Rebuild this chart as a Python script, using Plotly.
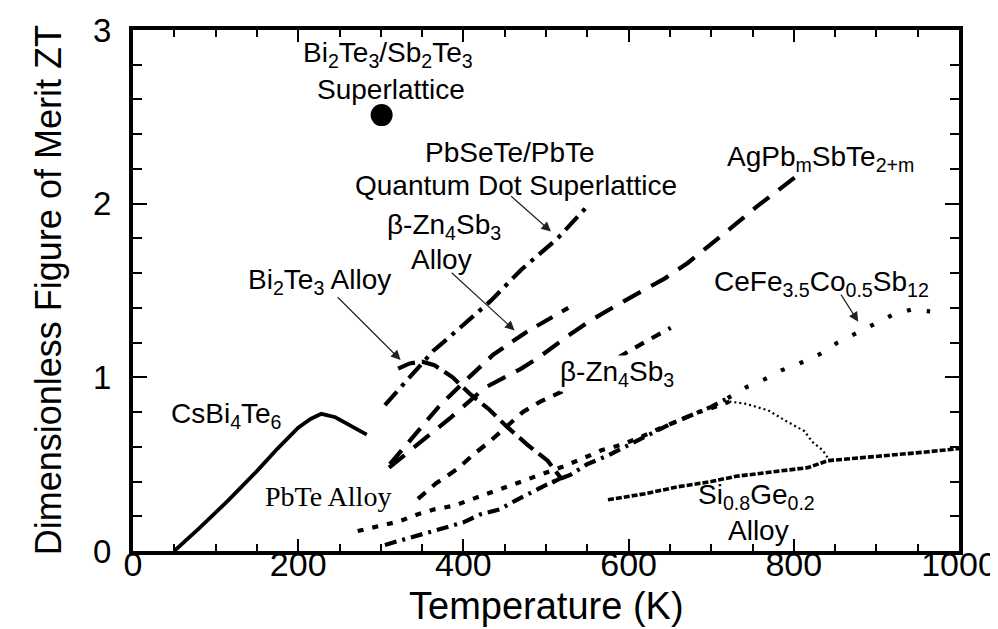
import plotly.graph_objects as go

# ---------------- data ----------------
cs_T = [50, 80, 115, 150, 175, 200, 215, 228, 245, 265, 283]
cs_ZT = [0.0, 0.13, 0.29, 0.46, 0.59, 0.71, 0.76, 0.79, 0.77, 0.72, 0.67]

sl_T = [301]
sl_ZT = [2.51]

qd_T = [305, 337, 363, 385, 433, 470, 514, 551]
qd_ZT = [0.84, 1.01, 1.15, 1.24, 1.44, 1.62, 1.80, 1.99]

bt_T = [321, 335, 350, 365, 387, 409, 430, 454, 478, 502, 518, 502]
bt_ZT = [1.05, 1.08, 1.09, 1.07, 1.00, 0.90, 0.82, 0.71, 0.61, 0.52, 0.42, 0.38]

zna_T = [311, 340, 370, 400, 436, 476, 516, 527]
zna_ZT = [0.50, 0.66, 0.83, 0.97, 1.13, 1.26, 1.37, 1.40]

agpb_T = [310, 343, 385, 426, 470, 490, 527, 555, 591, 644, 672, 724, 757, 801]
agpb_ZT = [0.48, 0.61, 0.77, 0.94, 1.05, 1.11, 1.24, 1.33, 1.43, 1.57, 1.66, 1.86, 1.99, 2.15]

zn_T = [345, 367, 392, 412, 433, 472, 493, 520, 560, 600, 626, 651]
zn_ZT = [0.30, 0.39, 0.47, 0.555, 0.635, 0.80, 0.86, 0.92, 1.03, 1.15, 1.22, 1.285]

pbte_T = [272, 300, 322, 344, 365, 388, 412, 433, 454, 478, 500, 520, 543, 567, 590, 612, 635, 660, 685, 705, 722]
pbte_ZT = [0.115, 0.145, 0.17, 0.21, 0.24, 0.26, 0.30, 0.34, 0.37, 0.41, 0.45, 0.485, 0.53, 0.58, 0.61, 0.65, 0.70, 0.75, 0.80, 0.83, 0.86]

pbdrop_T = [722, 740, 769, 790, 813, 822, 835, 842]
pbdrop_ZT = [0.86, 0.85, 0.81, 0.75, 0.69, 0.63, 0.58, 0.53]

cefe_lo_T = [305, 330, 355, 377, 400, 420, 444, 463, 487, 504, 530, 550, 575, 600, 625, 650, 675, 700, 720]
cefe_lo_ZT = [0.035, 0.07, 0.10, 0.13, 0.165, 0.21, 0.24, 0.29, 0.345, 0.39, 0.44, 0.50, 0.55, 0.61, 0.67, 0.73, 0.78, 0.83, 0.88]

cefe_hi_T = [720, 741, 765, 785, 807, 832, 853, 876, 898, 920, 942, 965]
cefe_hi_ZT = [0.88, 0.94, 0.99, 1.04, 1.08, 1.135, 1.20, 1.255, 1.31, 1.36, 1.39, 1.38]

sige_T = [575, 620, 660, 700, 730, 780, 817, 841, 880, 910, 960, 1000]
sige_ZT = [0.295, 0.33, 0.37, 0.40, 0.43, 0.46, 0.48, 0.52, 0.535, 0.55, 0.57, 0.59]

x_ticks = [0, 200, 400, 600, 800, 1000]
y_ticks = [0, 1, 2, 3]

# ---------------- figure ----------------
SANS = "Liberation Sans, Arial, Helvetica, sans-serif"
SERIF = "Liberation Serif, Times New Roman, serif"
LBL = 28

fig = go.Figure()

def line(x, y, dash, width=4.2):
    fig.add_trace(go.Scatter(x=x, y=y, mode="lines",
                             line=dict(color="black", width=width, dash=dash),
                             showlegend=False, hoverinfo="skip"))

line(cs_T, cs_ZT, "solid", 3.8)
line(qd_T, qd_ZT, "18px,7px,4px,7px")
line(bt_T, bt_ZT, "18px,7px")
line(zna_T, zna_ZT, "18px,11px")
line(agpb_T, agpb_ZT, "20px,12px")
line(zn_T, zn_ZT, "10px,9px")
line(pbte_T, pbte_ZT, "6px,9px")
line(pbdrop_T, pbdrop_ZT, "2px,3px", 2.2)
line(cefe_lo_T, cefe_lo_ZT, "12px,6px,3px,6px")
line(cefe_hi_T, cefe_hi_ZT, "4px,16px")
line(sige_T, sige_ZT, "6px,2px", 3.6)

fig.add_trace(go.Scatter(x=sl_T, y=sl_ZT, mode="markers",
                         marker=dict(color="black", size=22, symbol="circle"),
                         showlegend=False, hoverinfo="skip"))

labels = [
    ("Bi<sub>2</sub>Te<sub>3</sub>/Sb<sub>2</sub>Te<sub>3</sub>", 309, 2.86, SANS, False),
    ("Superlattice", 312, 2.66, SANS, False),
    ("PbSeTe/PbTe", 456, 2.295, SANS, False),
    ("Quantum Dot Superlattice", 464, 2.105, SANS, False),
    ("β-Zn<sub>4</sub>Sb<sub>3</sub>", 377, 1.87, SANS, False),
    ("Alloy", 373, 1.68, SANS, False),
    ("Bi<sub>2</sub>Te<sub>3</sub> Alloy", 226, 1.55, SANS, False),
    ("AgPb<sub>m</sub>SbTe<sub>2+m</sub>", 832, 2.26, SANS, False),
    ("CeFe<sub>3.5</sub>Co<sub>0.5</sub>Sb<sub>12</sub>", 833, 1.54, SANS, False),
    ("β-Zn<sub>4</sub>Sb<sub>3</sub>", 586, 1.02, SANS, True),
    ("CsBi<sub>4</sub>Te<sub>6</sub>", 113, 0.78, SANS, False),
    ("PbTe Alloy", 236, 0.315, SERIF, False),
    ("Si<sub>0.8</sub>Ge<sub>0.2</sub>", 755, 0.315, SANS, False),
    ("Alloy", 757, 0.12, SANS, False),
]
for txt, x, y, fam, bg in labels:
    fig.add_annotation(x=x, y=y, text=txt, showarrow=False,
                       font=dict(family=fam, size=LBL, color="black"),
                       bgcolor="white" if bg else "rgba(0,0,0,0)",
                       borderpad=0,
                       xanchor="center", yanchor="middle")

arrows = [
    # tip x, tip y, tail x, tail y
    (506, 1.84, 456, 2.05),
    (462, 1.27, 384, 1.61),
    (324, 1.10, 246, 1.47),
    (878, 1.32, 856, 1.485),
]
for x, y, ax, ay in arrows:
    fig.add_annotation(x=x, y=y, ax=ax, ay=ay, xref="x", yref="y",
                       axref="x", ayref="y", text="", showarrow=True,
                       arrowhead=2, arrowsize=1.6, arrowwidth=1.2,
                       arrowcolor="#222")

# axis titles placed in paper space
fig.add_annotation(text="Temperature (K)", xref="paper", yref="paper",
                   x=0.5, y=-0.106, xanchor="center", yanchor="middle",
                   showarrow=False, borderpad=0,
                   font=dict(family=SANS, size=38, color="black"))
fig.add_annotation(text="Dimensionless Figure of Merit ZT", xref="paper",
                   yref="paper", x=-0.102, y=0.5, xanchor="center",
                   yanchor="middle", textangle=-90, showarrow=False,
                   font=dict(family=SANS, size=36, color="black"))

fig.update_xaxes(range=[0, 1000], tickvals=x_ticks, ticks="inside",
                 ticklen=12, tickwidth=2, tickcolor="black",
                 minor=dict(dtick=50, tick0=0, ticks="inside", ticklen=7,
                            tickwidth=1.5, tickcolor="black"),
                 showline=True, linewidth=4, linecolor="black",
                 mirror="ticks", showgrid=False, zeroline=False,
                 automargin=False, ticklabelstandoff=-20,
                 tickfont=dict(family=SANS, size=34, color="black"))
fig.update_yaxes(range=[0, 3], tickvals=y_ticks, ticks="inside",
                 ticklen=14, tickwidth=2, tickcolor="black",
                 minor=dict(dtick=0.2, tick0=0, ticks="inside", ticklen=9,
                            tickwidth=1.5, tickcolor="black"),
                 showline=True, linewidth=4, linecolor="black",
                 mirror="ticks", showgrid=False, zeroline=False,
                 automargin=False, ticklabelstandoff=11,
                 tickfont=dict(family=SANS, size=33, color="black"))

fig.update_layout(width=998, height=629,
                  margin=dict(l=125, r=47, t=22, b=86),
                  paper_bgcolor="white", plot_bgcolor="white")

fig.write_html("out.html")
